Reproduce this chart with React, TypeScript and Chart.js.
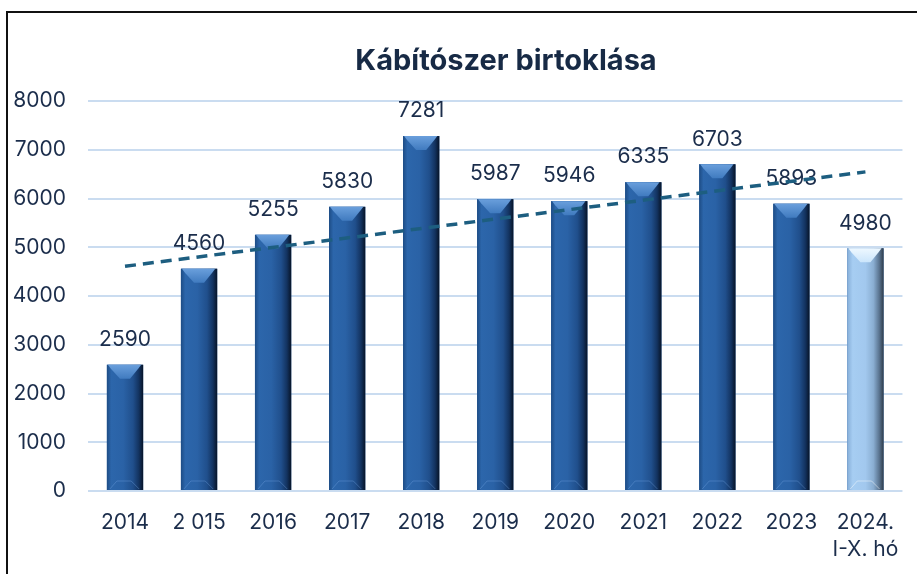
import React, { useEffect, useRef } from "react";
import { Chart, registerables } from "chart.js";

Chart.register(...registerables);

const titleText = "Kábítószer birtoklása";
const categories: (string | string[])[] = [
  "2014", "2 015", "2016", "2017", "2018", "2019", "2020", "2021", "2022", "2023", ["2024.", "I-X. hó"],
];
const values = [2590, 4560, 5255, 5830, 7281, 5987, 5946, 6335, 6703, 5893, 4980];
const barKinds = ["dark", "dark", "dark", "dark", "dark", "dark", "dark", "dark", "dark", "dark", "light"];
const trendValues: (number | null)[] = [4610, null, null, null, null, null, null, null, null, null, 6546];
const yMin = 0;
const yMax = 8000;
const yStep = 1000;

const TEXT = "#1b2d4b";
const FONT = "Inter, 'Liberation Sans', Arial, sans-serif";

const darkStops: [number, string][] = [
  [0, "#1d4c85"], [0.12, "#2c66ab"], [0.45, "#2a62a6"], [0.72, "#204f8c"], [0.88, "#133360"], [1, "#071428"],
];
const lightStops: [number, string][] = [
  [0, "#86aed8"], [0.15, "#a6cdf2"], [0.5, "#a2c8ee"], [0.72, "#8aaed2"], [0.88, "#5a7490"], [1, "#2f3c4a"],
];

const barPlugin = {
  id: "barStyle",
  afterDatasetDraw(chart: any, args: any) {
    if (args.index !== 0) return;
    const ctx = chart.ctx as CanvasRenderingContext2D;
    args.meta.data.forEach((el: any, i: number) => {
      const { x, y, base, width } = el.getProps(["x", "y", "base", "width"], true);
      const x0 = x - width / 2;
      const x1 = x + width / 2;
      const light = barKinds[i] === "light";
      const g = ctx.createLinearGradient(x0, 0, x1, 0);
      (light ? lightStops : darkStops).forEach(([o, c]) => g.addColorStop(o, c));
      ctx.save();
      ctx.fillStyle = g;
      ctx.fillRect(x0, y, width, base - y);
      // top bevel
      const tg = ctx.createLinearGradient(0, y, 0, y + 15);
      if (light) {
        tg.addColorStop(0, "#eef8ff");
        tg.addColorStop(1, "#c9e4fb");
      } else {
        tg.addColorStop(0, "#6a9fdc");
        tg.addColorStop(1, "#3d78bd");
      }
      ctx.fillStyle = tg;
      ctx.beginPath();
      ctx.moveTo(x0 + 1, y);
      ctx.lineTo(x1 - 2, y);
      ctx.lineTo(x1 - 5, y + 4);
      ctx.lineTo(x + 5, y + 14);
      ctx.lineTo(x - 5, y + 14);
      ctx.lineTo(x0 + 4, y + 4);
      ctx.closePath();
      ctx.fill();
      // bottom bevel
      ctx.strokeStyle = light ? "rgba(255,255,255,0.45)" : "rgba(120,170,230,0.35)";
      ctx.lineWidth = 1;
      ctx.beginPath();
      ctx.moveTo(x0 + 3, base - 1);
      ctx.lineTo(x0 + 10, base - 9);
      ctx.lineTo(x1 - 12, base - 9);
      ctx.lineTo(x1 - 4, base - 1);
      ctx.stroke();
      // label
      ctx.fillStyle = TEXT;
      ctx.font = `21px ${FONT}`;
      ctx.textAlign = "center";
      ctx.textBaseline = "middle";
      ctx.fillText(String(values[i]), x, y - 25);
      ctx.restore();
    });
  },
};

const titlePlugin = {
  id: "customTitle",
  afterDraw(chart: any) {
    const ctx = chart.ctx as CanvasRenderingContext2D;
    ctx.save();
    ctx.fillStyle = "#172a45";
    ctx.font = `bold 29px ${FONT}`;
    ctx.textAlign = "center";
    ctx.textBaseline = "middle";
    ctx.fillText(titleText, 506, 61);
    ctx.restore();
  },
};

export default function App() {
  const ref = useRef<HTMLCanvasElement | null>(null);
  useEffect(() => {
    if (!ref.current) return;
    const chart = new Chart(ref.current, {
      type: "bar",
      data: {
        labels: categories as any,
        datasets: [
          {
            type: "bar",
            data: values,
            backgroundColor: "#2a62a5",
            borderWidth: 0,
            barPercentage: 0.49,
            categoryPercentage: 1,
            order: 1,
          },
          {
            type: "line",
            data: trendValues,
            spanGaps: true,
            borderColor: "#1d5e80",
            borderWidth: 3.5,
            borderDash: [11, 7],
            pointRadius: 0,
            fill: false,
            order: 0,
          } as any,
        ],
      },
      options: {
        responsive: false,
        animation: false,
        events: [],
        layout: { padding: { left: 0, right: 14, top: 101, bottom: 0 } },
        plugins: { legend: { display: false }, title: { display: false }, tooltip: { enabled: false } },
        scales: {
          x: {
            grid: { display: false, drawTicks: false },
            border: { display: false },
            ticks: {
              color: TEXT,
              font: { family: FONT, size: 21, lineHeight: 1.3 },
              padding: 18,
              maxRotation: 0,
              autoSkip: false,
            },
            afterFit(scale: any) {
              scale.height = 83;
            },
          },
          y: {
            min: yMin,
            max: yMax,
            grid: { color: "#cadcf0", lineWidth: 2, drawTicks: false },
            border: { display: false },
            ticks: {
              stepSize: yStep,
              color: TEXT,
              font: { family: FONT, size: 21 },
              padding: 22,
              callback: (v: any) => String(v),
            },
            afterFit(scale: any) {
              scale.width = 88;
            },
          },
        },
      },
      plugins: [barPlugin, titlePlugin],
    });
    return () => chart.destroy();
  }, []);
  return (
    <div style={{ position: "absolute", left: 0, top: 0, width: 917, height: 574, overflow: "hidden", background: "#fff" }}>
      <div
        style={{
          position: "absolute",
          left: 6,
          top: 11,
          width: 1000,
          height: 1000,
          borderLeft: "2px solid #111",
          borderTop: "2px solid #111",
        }}
      />
      <canvas ref={ref} width={917} height={574} style={{ position: "absolute", left: 0, top: 0, width: 917, height: 574 }} />
    </div>
  );
}
